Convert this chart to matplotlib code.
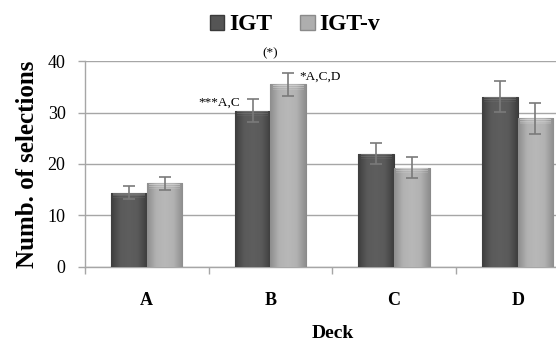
import matplotlib
matplotlib.use('Agg')
import matplotlib.pyplot as plt
from matplotlib.patches import Patch
from matplotlib.colors import LinearSegmentedColormap
import numpy as np

# Data
decks = ['A', 'B', 'C', 'D']
igt = [14.4, 30.4, 22.0, 33.1]
igt_err = [1.3, 2.3, 2.1, 3.0]
igt_v = [16.2, 35.5, 19.3, 28.9]
igt_v_err = [1.2, 2.2, 2.1, 3.0]
yticks = [0, 10, 20, 30, 40]

plt.rcParams['font.family'] = ['Liberation Serif', 'DejaVu Serif']

DARK = '#555555'
LIGHT = '#aeaeae'
GRID = '#a6a6a6'

cmap_dark = LinearSegmentedColormap.from_list('d', ['#3e3e3e', '#5a5a5a', '#5e5e5e', '#5a5a5a', '#3e3e3e'])
cmap_light = LinearSegmentedColormap.from_list('l', ['#8e8e8e', '#b2b2b2', '#b8b8b8', '#b2b2b2', '#8e8e8e'])

fig = plt.figure(figsize=(5.56, 3.44), dpi=100)
ax = fig.add_axes([85 / 556, 77.3 / 344, 471 / 556, 205.5 / 344])

x = np.arange(len(decks))
w = 0.288
b1 = ax.bar(x - w / 2, igt, w, color=DARK, edgecolor='#3a3a3a', linewidth=0.8, zorder=3)
b2 = ax.bar(x + w / 2, igt_v, w, color=LIGHT, edgecolor='#8a8a8a', linewidth=0.8, zorder=3)

# shaded fill + soft bevel top, clipped to each bar
grad = np.linspace(0, 1, 64).reshape(1, -1)
for bars, cm, top in [(b1, cmap_dark, '#909090'), (b2, cmap_light, '#ececec')]:
    for r in bars:
        x0, y0, bw, bh = r.get_x(), r.get_y(), r.get_width(), r.get_height()
        im = ax.imshow(grad, cmap=cm, aspect='auto', extent=(x0, x0 + bw, y0, y0 + bh),
                       zorder=3.1, interpolation='bicubic')
        im.set_clip_path(r)
        for k, a in enumerate([0.45, 0.3, 0.15]):
            ax.fill_between([x0 + bw * 0.06, x0 + bw * 0.94],
                            y0 + bh - 0.35 * (k + 1), y0 + bh - 0.35 * k - 0.12,
                            color=top, alpha=a, linewidth=0, zorder=3.2)

ax.errorbar(x - w / 2, igt, yerr=igt_err, fmt='none', ecolor='#7a7a7a',
            elinewidth=1.2, capsize=4, capthick=1.2, zorder=4)
ax.errorbar(x + w / 2, igt_v, yerr=igt_v_err, fmt='none', ecolor='#7a7a7a',
            elinewidth=1.2, capsize=4, capthick=1.2, zorder=4)

ax.set_xlim(-0.5, 3.31)
ax.set_ylim(0, 40)
ax.set_yticks(yticks)
ax.set_yticklabels([str(v) for v in yticks], fontsize=13)
ax.yaxis.grid(True, color=GRID, linewidth=1, zorder=0)
ax.set_axisbelow(True)

ax.set_xticks(x)
ax.set_xticklabels(decks, fontsize=13, fontweight='bold')
ax.set_xticks(np.arange(-0.5, 3.5, 1), minor=True)
ax.tick_params(axis='x', which='major', length=0, pad=18)
ax.tick_params(axis='x', which='minor', length=5, color=GRID, width=1)
ax.tick_params(axis='y', length=5, color=GRID, width=1, pad=9)

for s in ['top', 'right']:
    ax.spines[s].set_visible(False)
for s in ['left', 'bottom']:
    ax.spines[s].set_color(GRID)
    ax.spines[s].set_linewidth(1)

ax.set_ylabel('Numb. of selections', fontsize=18, fontweight='bold', labelpad=6)
fig.text(333 / 556, 1 - 333 / 344, 'Deck', fontsize=14, fontweight='bold',
         ha='center', va='center')

# significance annotations
ax.text(0.753, 32.0, '***A,C', fontsize=9.5, ha='right', va='center')
ax.text(1.238, 37.0, '*A,C,D', fontsize=9.5, ha='left', va='center')
ax.text(x[1], 41.5, '(*)', fontsize=9.5, ha='center', va='center', clip_on=False)

handles = [Patch(facecolor=DARK, edgecolor='#3a3a3a'),
           Patch(facecolor=LIGHT, edgecolor='#8a8a8a')]
fig.legend(handles, ['IGT', 'IGT-v'], loc='center', bbox_to_anchor=(295 / 556, 1 - 25 / 344),
           ncol=2, frameon=False, prop={'weight': 'bold', 'size': 17},
           handlelength=0.6, handleheight=0.6, handletextpad=0.2, columnspacing=1.2)

fig.savefig('out.png', dpi=100)
